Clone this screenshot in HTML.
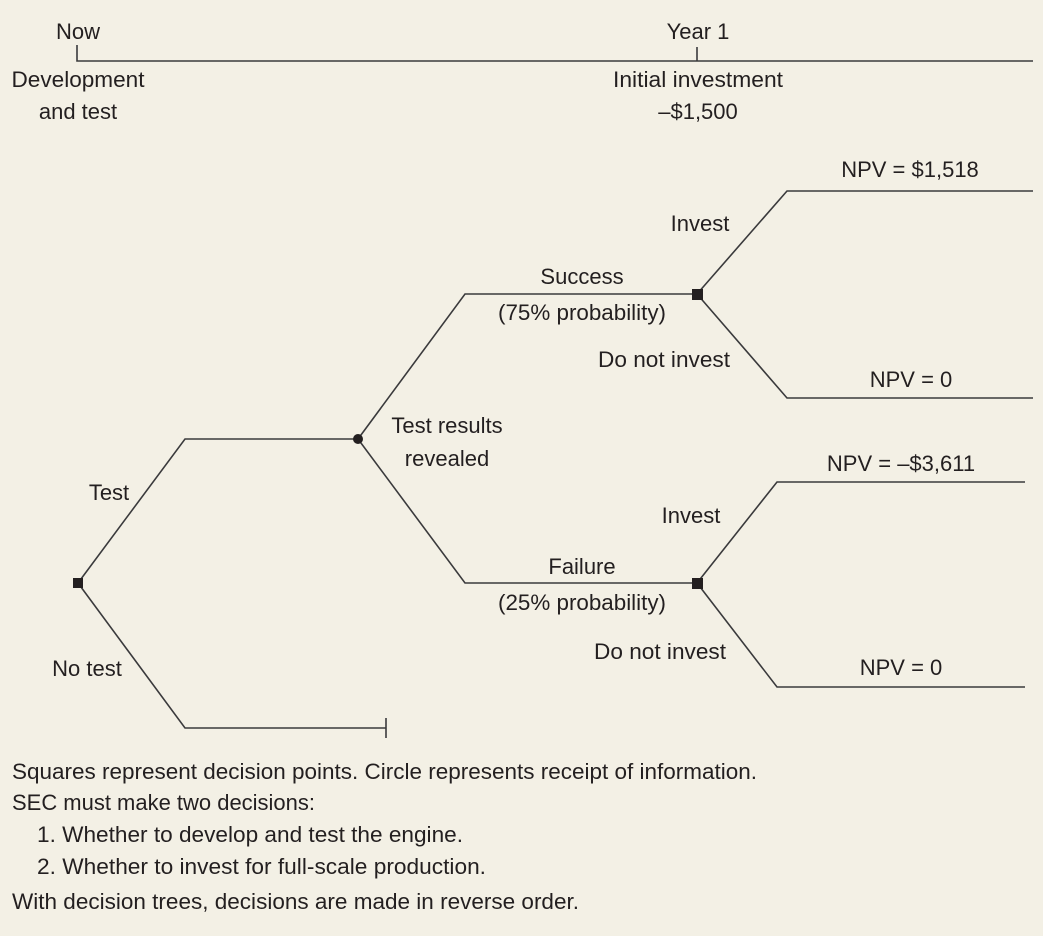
<!DOCTYPE html>
<html><head><meta charset="utf-8"><style>
html,body{margin:0;padding:0;background:#f3f0e5;}
svg{display:block;}
text{font-family:"Liberation Sans Narrow","Liberation Sans",sans-serif;font-size:22px;fill:#231f20;}
</style></head><body>
<svg width="1043" height="936" viewBox="0 0 1043 936">
<rect width="1043" height="936" fill="#f3f0e5"/>
<g stroke="#3a3a3c" stroke-width="1.6" fill="none">
<polyline points="77,45 77,61 1033,61"/>
<line x1="697" y1="47" x2="697" y2="61"/>
<polyline points="78,583 185,439 358,439"/>
<polyline points="78,583 185,728 386,728"/>
<line x1="386" y1="718" x2="386" y2="738"/>
<polyline points="358,439 465,294 697,294"/>
<polyline points="358,439 465,583 697,583"/>
<polyline points="697,294 787,191 1033,191"/>
<polyline points="697,294 787,398 1033,398"/>
<polyline points="697,583 777,482 1025,482"/>
<polyline points="697,583 777,687 1025,687"/>
</g>
<g fill="#231f20">
<rect x="73" y="578" width="10" height="10"/>
<rect x="692" y="289" width="11" height="11"/>
<rect x="692" y="578" width="11" height="11"/>
<circle cx="358" cy="439" r="5"/>
</g>
<g text-anchor="middle">
<text x="78" y="39">Now</text>
<text x="698" y="39">Year 1</text>
<text x="78" y="87" textLength="133" lengthAdjust="spacingAndGlyphs">Development</text>
<text x="78" y="119">and test</text>
<text x="698" y="87" textLength="170" lengthAdjust="spacingAndGlyphs">Initial investment</text>
<text x="698" y="119">–$1,500</text>
<text x="910" y="177">NPV = $1,518</text>
<text x="700" y="231">Invest</text>
<text x="582" y="284">Success</text>
<text x="582" y="320" textLength="168" lengthAdjust="spacingAndGlyphs">(75% probability)</text>
<text x="664" y="367" textLength="132" lengthAdjust="spacingAndGlyphs">Do not invest</text>
<text x="911" y="387">NPV = 0</text>
<text x="447" y="433">Test results</text>
<text x="447" y="466">revealed</text>
<text x="901" y="471">NPV = –$3,611</text>
<text x="109" y="500">Test</text>
<text x="691" y="523">Invest</text>
<text x="582" y="574">Failure</text>
<text x="582" y="610" textLength="168" lengthAdjust="spacingAndGlyphs">(25% probability)</text>
<text x="660" y="659" textLength="132" lengthAdjust="spacingAndGlyphs">Do not invest</text>
<text x="901" y="675">NPV = 0</text>
<text x="87" y="676">No test</text>
</g>
<text x="12" y="779" textLength="745" lengthAdjust="spacingAndGlyphs">Squares represent decision points. Circle represents receipt of information.</text>
<text x="12" y="810" textLength="303" lengthAdjust="spacingAndGlyphs">SEC must make two decisions:</text>
<text x="37" y="842" textLength="426" lengthAdjust="spacingAndGlyphs">1.  Whether to develop and test the engine.</text>
<text x="37" y="874" textLength="449" lengthAdjust="spacingAndGlyphs">2.  Whether to invest for full-scale production.</text>
<text x="12" y="909" textLength="567" lengthAdjust="spacingAndGlyphs">With decision trees, decisions are made in reverse order.</text>
</svg>
</body></html>
